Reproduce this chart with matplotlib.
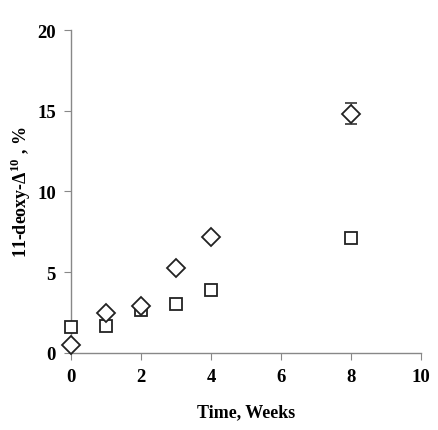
import matplotlib
matplotlib.use('Agg')
import matplotlib.pyplot as plt

# weeks of storage
weeks = [0, 1, 2, 3, 4, 8]
# 11-deoxy-delta10 content, %
diamond_vals = [0.5, 2.45, 2.9, 5.25, 7.15, 14.8]
diamond_err = [0, 0, 0, 0, 0, 0.65]
square_vals = [1.6, 1.65, 2.65, 3.05, 3.9, 7.1]

x_ticks = [0, 2, 4, 6, 8, 10]
y_ticks = [0, 5, 10, 15, 20]

plt.rcParams['font.family'] = ['Liberation Serif', 'DejaVu Serif']
plt.rcParams['font.weight'] = 'bold'
plt.rcParams['mathtext.fontset'] = 'custom'
plt.rcParams['mathtext.rm'] = 'Liberation Serif'
plt.rcParams['mathtext.bf'] = 'Liberation Serif:bold'

fig = plt.figure(figsize=(4.39, 4.31), dpi=100)
ax = fig.add_axes([0.162, 0.179, 0.797, 0.749])

ax.errorbar(weeks, diamond_vals, yerr=diamond_err, fmt='D', ms=9,
            mfc='white', mec='#222222', mew=1.3, ecolor='#444444',
            elinewidth=0.8, capsize=4, capthick=0.8, zorder=3,
            clip_on=False)
ax.plot(weeks, square_vals, 's', ms=9, mfc='white', mec='#222222',
        mew=1.3, zorder=3, clip_on=False)

ax.set_xlim(0, 10)
ax.set_ylim(0, 20)
ax.set_xticks(x_ticks)
ax.set_yticks(y_ticks)
for s in ['top', 'right']:
    ax.spines[s].set_visible(False)
for s in ['left', 'bottom']:
    ax.spines[s].set_color('#888888')
    ax.spines[s].set_linewidth(1.0)
ax.tick_params(direction='out', length=5, color='#888888', labelsize=13.5,
               pad=6)
for lab in ax.get_xticklabels() + ax.get_yticklabels():
    lab.set_fontweight('bold')

ax.set_xlabel('Time, Weeks', fontsize=13, fontweight='bold', labelpad=13)
ax.set_ylabel('11-deoxy-Δ$^{\\mathbf{10}}$ , %', fontsize=13,
              fontweight='bold', labelpad=3)

fig.savefig('out.png', dpi=100)
